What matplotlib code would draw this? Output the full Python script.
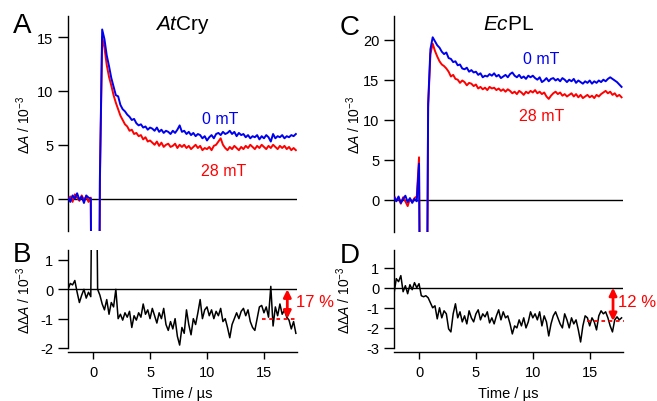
import numpy as np
import matplotlib
matplotlib.use('Agg')
import matplotlib.pyplot as plt

plt.rcParams['font.family'] = ['Liberation Sans', 'DejaVu Sans']
plt.rcParams['mathtext.fontset'] = 'custom'
plt.rcParams['mathtext.rm'] = 'Liberation Sans'
plt.rcParams['mathtext.it'] = 'Liberation Sans:italic'
plt.rcParams['axes.unicode_minus'] = False

# time axis (us), 0.2 us sampling
time = np.round(np.arange(-2.2, 17.81, 0.2), 1)

# AtCry, dA / 1e-3
at_0mT = [0.1, -0.3, 0.3, 0.0, 0.5, -0.1, 0.2, -0.4, 0.3, 0.1, 0.0,
          -40, -40, -40, 2.0, 15.7, 14.8, 13.3, 12.3, 11.2, 10.4,
          9.6, 9.5, 8.7, 8.3, 8.1, 7.8, 7.6, 7.3, 7.4, 7.0,
          6.8, 6.9, 6.6, 6.7, 6.4, 6.6, 6.5, 6.3, 6.6, 6.2,
          6.4, 6.1, 6.3, 6.2, 6.0, 6.3, 6.1, 6.4, 6.8, 6.2,
          6.3, 6.0, 6.2, 5.9, 6.1, 5.8, 6.0, 5.9, 5.6, 5.8,
          5.4, 5.7, 5.9, 5.6, 6.0, 6.1, 5.9, 6.2, 6.0, 6.1,
          6.3, 6.0, 6.2, 5.8, 6.1, 5.9, 6.0, 5.7, 5.9, 5.6,
          5.8, 5.7, 5.9, 5.5, 5.8, 5.6, 5.9, 5.7, 5.3, 6.0,
          5.6, 5.8, 5.7, 5.9, 5.6, 5.8, 5.7, 5.9, 5.8, 6.0]
at_28mT = [-0.2, 0.2, -0.3, 0.4, 0.1, -0.2, 0.3, -0.1, 0.2, -0.3, 0.1,
           -40, -40, -40, 1.5, 15.0, 14.0, 12.4, 11.3, 10.5, 9.6,
           8.9, 8.3, 7.7, 7.3, 6.9, 6.7, 6.3, 6.4, 6.0, 6.1,
           5.8, 5.9, 5.5, 5.7, 5.3, 5.4, 5.2, 5.0, 5.3, 4.9,
           5.2, 4.8, 5.0, 5.1, 4.8, 4.9, 5.1, 4.7, 5.0, 4.8,
           5.0, 4.7, 4.9, 4.6, 4.8, 5.0, 4.7, 4.9, 4.5, 4.7,
           4.6, 4.8, 4.5, 4.9, 5.0, 5.3, 5.6, 5.0, 4.7, 4.5,
           4.8, 4.6, 4.9, 4.7, 4.5, 4.8, 4.6, 4.9, 4.7, 5.0,
           4.8, 4.6, 4.9, 4.7, 5.0, 4.8, 4.6, 4.9, 4.7, 5.0,
           4.8, 4.6, 4.9, 4.7, 4.9, 4.6, 4.8, 4.5, 4.7, 4.5]
at_diff = [0.0, 0.2, 0.15, 0.3, -0.1, -0.45, -0.2, 0.0, -0.3, -0.1, -0.25,
           8.0, 8.0, 0.0, -0.2, -0.5, -0.7, -0.35, -0.85, -0.45, -0.6,
           0.0, -1.0, -0.85, -1.05, -0.8, -0.95, -0.75, -1.3, -0.9, -1.05,
           -0.8, -0.95, -0.5, -0.85, -0.7, -1.0, -0.65, -0.9, -1.15, -0.8,
           -1.0, -0.65, -1.2, -1.4, -1.1, -1.35, -1.0, -1.6, -1.9, -1.3,
           -1.5, -0.7, -1.2, -1.55, -1.0, -1.2, -0.8, -0.35, -1.0, -0.7,
           -0.6, -0.9, -0.7, -1.0, -0.75, -0.9, -0.65, -1.1, -1.0, -1.3,
           -1.65, -1.2, -1.0, -0.8, -1.0, -0.75, -0.65, -0.9, -0.7, -1.1,
           -1.3, -1.4, -1.0, -0.6, -0.55, -0.8, -0.6, -0.95, 0.1, -1.25,
           -0.6, -0.9, -0.5, -0.85, -0.7, -0.95, -1.05, -1.35, -1.1, -1.5]

# EcPL, dA / 1e-3
ec_0mT = [0.3, -0.2, 0.4, -0.4, 0.1, 0.5, -0.3, 0.2, -0.4, 0.1, -0.2,
          4.5, -40, -40, -40, 12.0, 18.8, 20.3, 19.8, 19.3, 19.0,
          18.5, 18.2, 18.4, 17.7, 17.6, 17.2, 17.3, 16.8, 16.9, 16.4,
          16.3, 16.5, 16.0, 16.2, 15.9, 16.0, 15.6, 15.8, 15.3, 15.5,
          15.4, 15.7, 15.5, 15.8, 15.4, 15.6, 15.2, 15.4, 15.6, 15.3,
          15.7, 15.9, 15.5, 15.3, 15.6, 15.2, 15.4, 15.1, 15.5, 15.3,
          15.5, 15.2, 15.0, 15.3, 14.7, 14.9, 15.2, 14.8, 15.1, 15.2,
          14.9, 15.1, 14.8, 15.2, 15.0, 14.7, 15.0, 14.8, 15.1, 14.6,
          14.9, 14.7, 14.5, 14.8, 14.6, 14.9, 14.5, 14.8, 14.6, 14.9,
          14.7, 15.0, 14.8, 15.1, 15.3, 15.1, 14.9, 14.7, 14.4, 14.1]
ec_28mT = [0.5, -0.1, 0.2, -0.5, 0.3, -0.2, -0.8, 0.1, -0.3, 0.2, 0.4,
           5.3, -40, -40, -40, 11.5, 18.2, 19.5, 18.6, 17.9, 17.3,
           16.9, 16.7, 16.4, 16.0, 15.4, 15.6, 15.1, 15.0, 14.6, 14.9,
           14.7, 14.3, 14.6, 14.5, 14.2, 14.4, 13.9, 14.1, 13.8, 14.0,
           13.7, 14.1, 13.9, 14.0, 13.7, 13.9, 13.6, 13.8, 13.5, 13.8,
           13.6, 13.3, 13.5, 13.2, 13.6, 13.4, 13.1, 13.5, 13.3, 13.6,
           13.4, 13.7, 13.3, 13.5, 13.2, 13.4, 12.9, 12.6, 13.0, 13.3,
           13.5, 13.2, 13.4, 13.0, 13.2, 12.9, 13.1, 13.3, 12.9, 13.2,
           12.8, 13.1, 12.7, 12.9, 13.1, 12.8, 13.0, 12.7, 13.1, 12.9,
           13.2, 13.4, 13.6, 13.3, 13.5, 13.1, 13.3, 12.9, 13.1, 12.8]
ec_diff = [-0.3, 0.45, 0.3, 0.6, -0.2, 0.1, -0.3, 0.15, -0.1, 0.25, 0.0,
           0.2, -0.4, -0.45, -0.4, -0.5, -0.75, -1.0, -0.9, -1.55, -1.0,
           -1.5, -1.15, -1.3, -2.05, -2.2, -1.3, -0.8, -1.5, -1.2, -1.7,
           -1.4, -1.8, -1.15, -1.5, -1.7, -1.3, -1.1, -1.6, -1.3, -1.45,
           -1.2, -1.75, -1.5, -1.8, -1.4, -1.1, -1.6, -1.2, -1.5, -1.4,
           -1.8, -2.3, -1.9, -2.0, -1.6, -1.9, -1.5, -2.0, -1.7, -1.2,
           -1.5, -1.3, -1.6, -1.2, -1.9, -1.4, -1.7, -2.4, -1.8, -1.4,
           -1.2, -1.5, -1.8, -2.0, -1.3, -1.6, -2.0, -1.5, -1.8, -1.6,
           -2.1, -2.7, -1.9, -1.4, -1.5, -1.9, -1.5, -1.7, -2.1, -1.4,
           -1.15, -1.3, -1.2, -1.5, -1.9, -2.2, -1.6, -1.45, -1.6, -1.5]

# effect size markers: (level of dotted line, percent label)
at_effect = (-1.0, '17 %')
ec_effect = (-1.66, '12 %')

BLUE = '#0000f0'
RED = '#ff0000'
W, H = 657, 402

fig = plt.figure(figsize=(W / 100, H / 100), dpi=100)


def px_axes(left, top, right, bottom):
    return fig.add_axes([left / W, 1 - bottom / H, (right - left) / W, (bottom - top) / H])


axA = px_axes(68, 17, 297, 232)
axB = px_axes(68, 250.7, 297, 349)
axC = px_axes(394, 17, 622.7, 232.7)
axD = px_axes(394, 250.7, 622.7, 349)

for ax in (axA, axB, axC, axD):
    for s in ('top', 'right'):
        ax.spines[s].set_visible(False)
    ax.spines['left'].set_linewidth(1.0)
    ax.spines['bottom'].set_linewidth(1.0)
    ax.tick_params(axis='y', length=7.5, width=1.0, pad=3, labelsize=10.5)
    ax.tick_params(axis='x', length=5, width=1.0, pad=4.5, labelsize=10.5)
    ax.set_xlim(-2.2, 17.9)
    ax.axhline(0, color='black', lw=1.0, zorder=1)
    ax.patch.set_visible(False)

for ax in (axA, axC):
    ax.spines['bottom'].set_visible(False)
    ax.tick_params(axis='x', bottom=False, labelbottom=False)
    ax.set_ylabel(r'$\mathit{ΔA}$ / 10$^{-3}$', fontsize=10)

for ax in (axB, axD):
    ax.spines['bottom'].set_position(('outward', 3))
    ax.set_xticks([0, 5, 10, 15])
    ax.set_xlabel('Time / µs', fontsize=10.5, labelpad=5)
    ax.set_ylabel(r'$\mathit{ΔΔA}$ / 10$^{-3}$', fontsize=10)

# A
axA.plot(time, at_28mT, color=RED, lw=1.4, zorder=2)
axA.plot(time, at_0mT, color=BLUE, lw=1.4, zorder=3)
axA.set_ylim(-3, 16.95)
axA.set_yticks([0, 5, 10, 15])
axA.set_title('$\\mathit{At}$Cry', fontsize=15, y=0.9)
axA.text(11.2, 7.05, '0 mT', color=BLUE, fontsize=11.5, ha='center', va='baseline')
axA.text(11.45, 2.23, '28 mT', color=RED, fontsize=11.5, ha='center', va='baseline')
axA.yaxis.set_label_coords(-0.153, 0.5)

# B
axB.plot(time, at_diff, color='black', lw=1.1, zorder=2)
axB.set_ylim(-2, 1.35)
axB.set_yticks([-2, -1, 0, 1])
axB.yaxis.set_label_coords(-0.153, 0.5)

# C
axC.plot(time, ec_28mT, color=RED, lw=1.4, zorder=2)
axC.plot(time, ec_0mT, color=BLUE, lw=1.4, zorder=3)
axC.set_ylim(-4, 22.96)
axC.set_yticks([0, 5, 10, 15, 20])
axC.set_title('$\\mathit{Ec}$PL', fontsize=15, y=0.9)
axC.text(10.75, 17.1, '0 mT', color=BLUE, fontsize=11.5, ha='center', va='baseline')
axC.text(10.77, 9.9, '28 mT', color=RED, fontsize=11.5, ha='center', va='baseline')
axC.yaxis.set_label_coords(-0.136, 0.5)

# D
axD.plot(time, ec_diff, color='black', lw=1.1, zorder=2)
axD.set_ylim(-3, 1.89)
axD.set_yticks([-3, -2, -1, 0, 1])
axD.yaxis.set_label_coords(-0.18, 0.5)

for ax, (level, label), tx in ((axB, at_effect, 17.8), (axD, ec_effect, 17.45)):
    ax.plot([14.8, 18.0], [level, level], color=RED, lw=1.3,
            linestyle=(0, (2, 2)), clip_on=False, zorder=4)
    ax.annotate('', xy=(17.05, level), xytext=(17.05, 0),
                arrowprops=dict(arrowstyle='<|-|>', color=RED, lw=2.0,
                                mutation_scale=11, shrinkA=0, shrinkB=0),
                annotation_clip=False)
    ax.text(tx, level * 0.42, label, color=RED, fontsize=12,
            ha='left', va='center', clip_on=False)

# panel letters
for x, y, s in ((13, 33, 'A'), (13, 262, 'B'), (340, 35, 'C'), (340, 263, 'D')):
    fig.text(x / W, 1 - y / H, s, fontsize=20, ha='left', va='baseline')

fig.savefig('out.png', dpi=100)
